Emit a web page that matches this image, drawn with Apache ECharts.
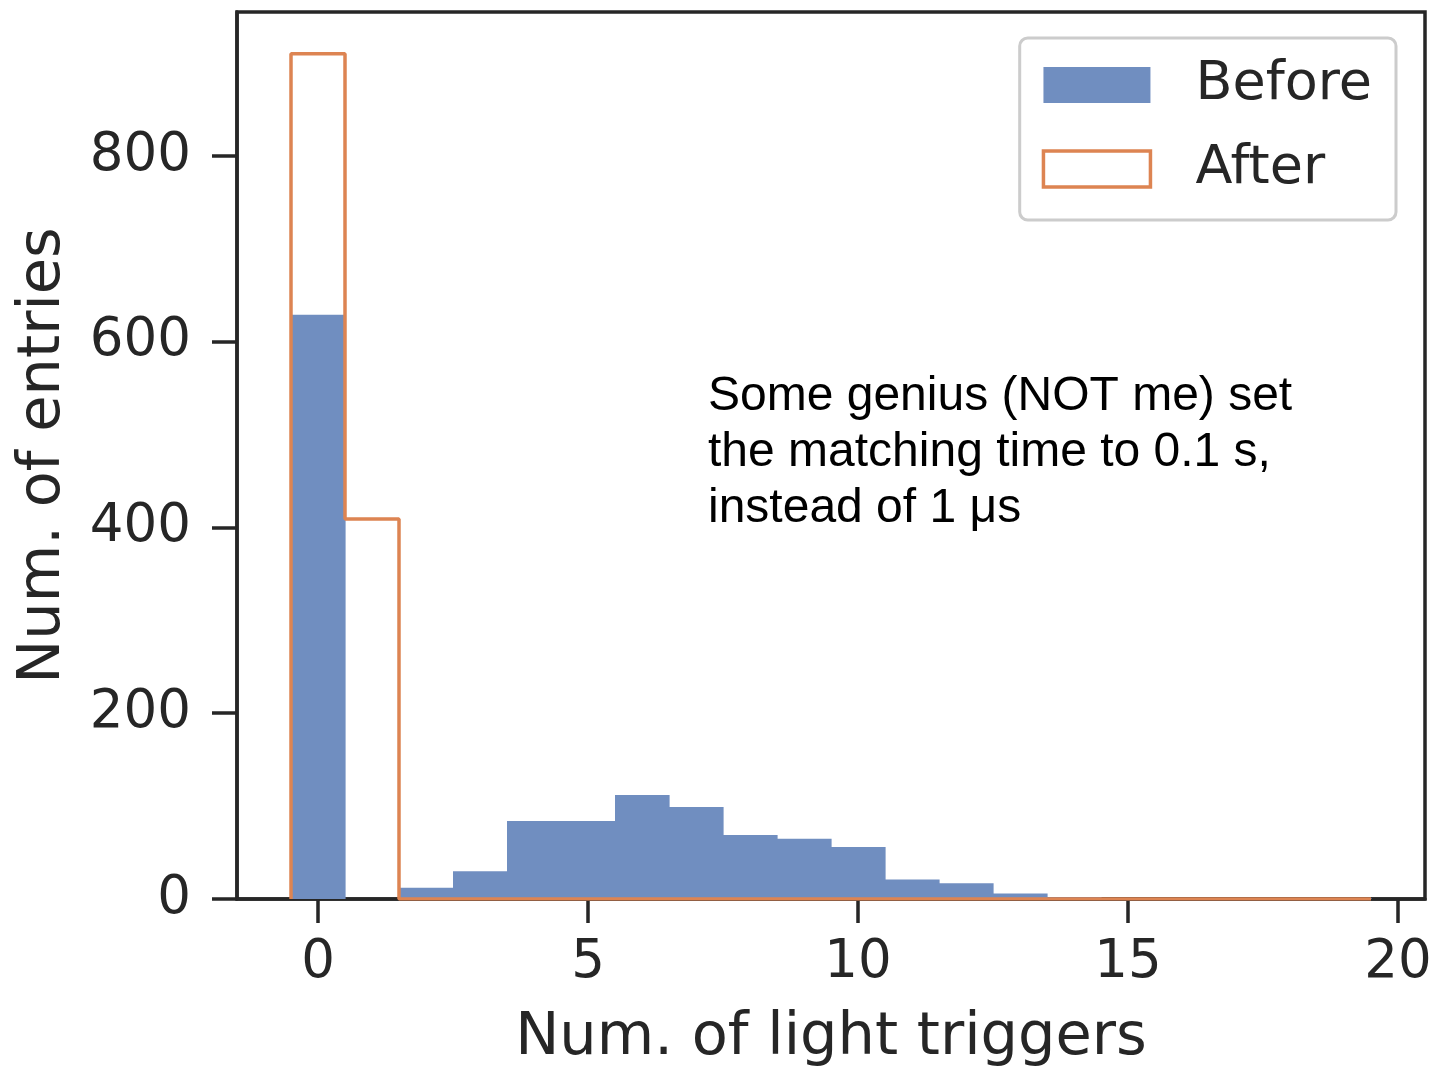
<!DOCTYPE html>
<html>
<head>
<meta charset="utf-8">
<script src="https://cdn.jsdelivr.net/npm/echarts@6/dist/echarts.min.js"></script>
<style>
html,body{margin:0;padding:0;background:#fff;}
#chart{width:1431px;height:1070px;}
</style>
</head>
<body>
<div id="chart"></div>
<script>
// Histogram bins (centers), width 1
const binCenters = [0,1,2,3,4,5,6,7,8,9,10,11,12,13,14,15,16,17,18,19];
const beforeCounts = [629,0,12,30,84,84,112,99,69,65,56,21,17,6,2,1,1,0,0,1];
const afterCounts  = [910,409,0,0,0,0,0,0,0,0,0,0,0,0,0,0,0,0,0,0];
const xTicks = [0,5,10,15,20];
const yTicks = [0,200,400,600,800];
const seriesNames = ['Before','After'];
const annotationLines = ['Some genius (NOT me) set','the matching time to 0.1 s,','instead of 1 μs'];

const BLUE = 'rgb(112,142,192)';
const ORANGE = '#DD8452';
const INK = '#262626';
const FONT = '"DejaVu Sans", sans-serif';

// step outline for the "After" histogram, from the bins
const afterStep = [];
let prev = 0;
binCenters.forEach((c, i) => {
  afterStep.push([c - 0.5, prev]);
  afterStep.push([c - 0.5, afterCounts[i]]);
  afterStep.push([c + 0.5, afterCounts[i]]);
  prev = afterCounts[i];
});
afterStep.push([binCenters[binCenters.length - 1] + 0.5, 0]);

const chart = echarts.init(document.getElementById('chart'));
chart.setOption({
  animation: false,
  grid: {left: 237, right: 6, top: 12, bottom: 171, outerBoundsMode: 'none', containLabel: false,
    show: true, borderColor: INK, borderWidth: 3.5, backgroundColor: '#fff'},
  xAxis: {
    type: 'value', min: -1.5, max: 20.5,
    name: 'Num. of light triggers', nameLocation: 'middle', nameGap: 110,
    nameTextStyle: {fontFamily: FONT, fontSize: 59, color: INK},
    axisLine: {show: true, onZero: false, lineStyle: {color: INK, width: 3.5}},
    axisTick: {show: true, length: 24, customValues: xTicks, lineStyle: {color: INK, width: 3.5}},
    axisLabel: {customValues: xTicks, fontFamily: FONT, fontSize: 53, color: INK, margin: 38},
    splitLine: {show: false}
  },
  yAxis: {
    type: 'value', min: 0, max: 955,
    name: 'Num. of entries', nameLocation: 'middle', nameGap: 164,
    nameTextStyle: {fontFamily: FONT, fontSize: 59, color: INK},
    axisLine: {show: true, onZero: false, lineStyle: {color: INK, width: 3.5}},
    axisTick: {show: true, length: 25, customValues: yTicks, lineStyle: {color: INK, width: 3.5}},
    axisLabel: {customValues: yTicks, fontFamily: FONT, fontSize: 53, color: INK, margin: 46},
    splitLine: {show: false}
  },
  legend: {
    orient: 'vertical', right: 35, top: 38,
    padding: [20, 24, 24, 22],
    itemWidth: 107, itemHeight: 36, itemGap: 30,
    backgroundColor: 'rgba(255,255,255,0.8)', borderColor: '#cccccc', borderWidth: 3, borderRadius: 8,
    textStyle: {fontFamily: FONT, fontSize: 54, color: INK, padding: [0, 0, 0, 40], lineHeight: 54},
    data: [
      {name: seriesNames[0], icon: 'rect', itemStyle: {color: BLUE}},
      {name: seriesNames[1], icon: 'rect', itemStyle: {color: '#fff', borderColor: ORANGE, borderWidth: 3.5}}
    ]
  },
  series: [
    {
      name: seriesNames[0], type: 'custom', z: 2,
      itemStyle: {color: BLUE},
      data: binCenters.map((c, i) => [c, beforeCounts[i]]),
      renderItem: function (params, api) {
        const c = api.value(0), v = api.value(1);
        const p0 = api.coord([c - 0.5, v]);
        const p1 = api.coord([c + 0.5, 0]);
        return {type: 'rect', shape: {x: p0[0], y: p0[1], width: p1[0] - p0[0] + 0.6, height: p1[1] - p0[1]},
          style: {fill: BLUE}};
      }
    },
    {
      name: seriesNames[1], type: 'line', z: 3,
      data: afterStep, showSymbol: false, symbol: 'none',
      lineStyle: {color: ORANGE, width: 3.5}, itemStyle: {color: ORANGE}
    }
  ],
  graphic: [{
    type: 'text', left: 708, top: 369, z: 10,
    style: {text: annotationLines.join('\n'), font: '48px "Liberation Sans", Arial, sans-serif', lineHeight: 56, fill: '#000'}
  }]
});
</script>
</body>
</html>
